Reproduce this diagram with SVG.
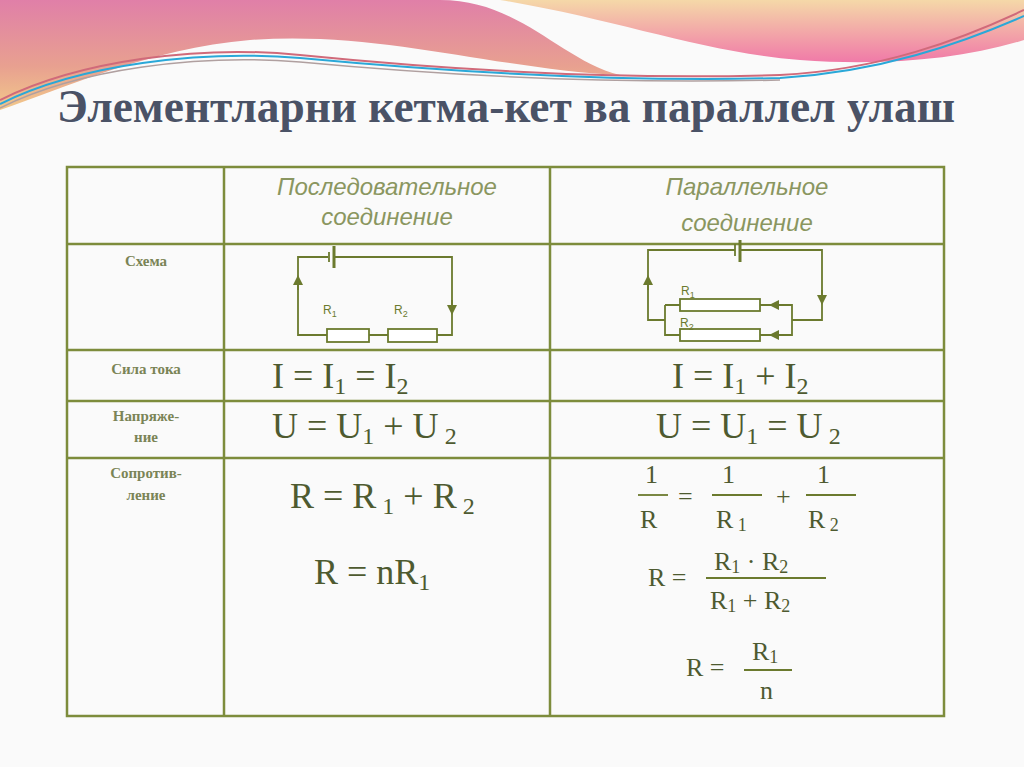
<svg xmlns="http://www.w3.org/2000/svg" width="1024" height="767" viewBox="0 0 1024 767">
<defs>
<linearGradient id="g1" x1="0" y1="0" x2="0" y2="1"><stop offset="0" stop-color="#e07fa8"/><stop offset="0.6" stop-color="#e8a090"/><stop offset="1" stop-color="#f2c98a"/></linearGradient>
<linearGradient id="g2" x1="0" y1="0" x2="0" y2="1"><stop offset="0" stop-color="#f5d8a8"/><stop offset="1" stop-color="#f07aa8"/></linearGradient>
<marker id="ar" viewBox="0 0 10 10" refX="5" refY="5" markerWidth="10" markerHeight="10" orient="auto" markerUnits="userSpaceOnUse"><path d="M0,0 L10,5 L0,10 z" fill="#6b7a2e"/></marker>
<style>
.tl{stroke:#7d8c3c;stroke-width:2.5;fill:none}
.w{stroke:#6b7a2e;stroke-width:1.8;fill:none}
.rs{stroke:#6b7a2e;stroke-width:1.8;fill:#fff}
.hd{font-family:"Liberation Sans",Arial,sans-serif;font-style:italic;font-size:24px;fill:#8a9660;text-anchor:middle}
.lb{font-family:"Liberation Serif",serif;font-weight:bold;font-size:15px;fill:#7a8456;text-anchor:middle}
.f{font-family:"Liberation Serif",serif;font-size:36px;fill:#4e5a30}
.fs{font-family:"Liberation Serif",serif;font-size:26px;fill:#4e5a30}
.sm{font-family:"Liberation Sans",Arial,sans-serif;font-size:12px;fill:#6b7a2e}
</style>
</defs>
<rect width="1024" height="767" fill="#fafafa"/>
<path d="M0,0 H440 C520,0 560,60 620,75 C500,70 380,30 250,40 C150,48 60,90 0,110 Z" fill="url(#g1)"/>
<path d="M500,0 H1024 V40 C960,60 880,66 800,60 C700,52 620,20 500,0 Z" fill="url(#g2)"/>
<path d="M0,100 C80,60 200,45 300,55 C450,70 620,80 780,75 C880,70 960,40 1024,10" stroke="#d06a7a" stroke-width="2" fill="none"/>
<path d="M0,104 C80,64 200,50 300,58 C450,72 620,82 780,78 C880,72 960,44 1024,16" stroke="#2aa8d8" stroke-width="2" fill="none"/>
<path d="M0,108 C80,68 200,54 300,62 C450,76 620,84 780,80" stroke="#b0a0a0" stroke-width="1.5" fill="none"/>
<text x="57" y="122" font-family="'Liberation Serif',serif" font-weight="bold" font-size="46" fill="#4a5266" textLength="898" lengthAdjust="spacingAndGlyphs">Элементларни кетма-кет ва параллел улаш</text>
<g id="table">
<rect x="67" y="167" width="877" height="549" class="tl"/>
<line x1="224" y1="167" x2="224" y2="716" class="tl"/>
<line x1="550" y1="167" x2="550" y2="716" class="tl"/>
<line x1="67" y1="244" x2="944" y2="244" class="tl"/>
<line x1="67" y1="350" x2="944" y2="350" class="tl"/>
<line x1="67" y1="401" x2="944" y2="401" class="tl"/>
<line x1="67" y1="458" x2="944" y2="458" class="tl"/>
</g>
<g id="headers">
<text x="387" y="195" class="hd">Последовательное</text>
<text x="387" y="225" class="hd">соединение</text>
<text x="747" y="195" class="hd">Параллельное</text>
<text x="747" y="231" class="hd">соединение</text>
</g>
<g id="labels">
<text x="146" y="266" class="lb">Схема</text>
<text x="146" y="374" class="lb">Сила тока</text>
<text x="146" y="421" class="lb">Напряже-</text>
<text x="146" y="442" class="lb">ние</text>
<text x="146" y="478" class="lb">Сопротив-</text>
<text x="146" y="500" class="lb">ление</text>
</g>
<g id="connectors">
<path d="M327,335 H298 V257 H328 M335,257 H452 V335 H437 M369,335 H388" class="w"/>
<line x1="329" y1="252" x2="329" y2="262" class="w"/>
<line x1="334" y1="246" x2="334" y2="268" stroke="#6b7a2e" stroke-width="3"/>
<path d="M298,290 V280" class="w" marker-end="url(#ar)"/>
<path d="M452,300 V310" class="w" marker-end="url(#ar)"/>
<rect x="327" y="329" width="42" height="13" class="rs"/>
<rect x="388" y="329" width="49" height="13" class="rs"/>
<text x="323" y="314" class="sm">R<tspan font-size="9" dy="3">1</tspan></text>
<text x="394" y="314" class="sm">R<tspan font-size="9" dy="3">2</tspan></text>
<path d="M735,250 H648 V320 H665 M740,250 H822 V320 H792 M665,305 V335 H680 M665,305 H680 M760,305 H792 V335 H760" class="w"/>
<line x1="735" y1="244" x2="735" y2="256" class="w"/>
<line x1="740" y1="240" x2="740" y2="262" stroke="#6b7a2e" stroke-width="3"/>
<path d="M648,290 V280" class="w" marker-end="url(#ar)"/>
<path d="M822,290 V300" class="w" marker-end="url(#ar)"/>
<path d="M784,305 H774" class="w" marker-end="url(#ar)"/>
<path d="M784,335 H774" class="w" marker-end="url(#ar)"/>
<rect x="680" y="299" width="80" height="12" class="rs"/>
<rect x="680" y="329" width="80" height="12" class="rs"/>
<text x="681" y="295" class="sm">R<tspan font-size="9" dy="3">1</tspan></text>
<text x="680" y="327" class="sm">R<tspan font-size="9" dy="3">2</tspan></text>
</g>
<g id="formulas">
<text x="272" y="388" class="f">I = I<tspan font-size="24" dy="6">1</tspan><tspan dy="-6">  = I</tspan><tspan font-size="24" dy="6">2</tspan></text>
<text x="672" y="388" class="f">I = I<tspan font-size="24" dy="6">1</tspan><tspan dy="-6">  + I</tspan><tspan font-size="24" dy="6">2</tspan></text>
<text x="272" y="438" class="f">U = U<tspan font-size="24" dy="6">1</tspan><tspan dy="-6"> + U</tspan><tspan font-size="24" dy="6"> 2</tspan></text>
<text x="656" y="438" class="f">U = U<tspan font-size="24" dy="6">1</tspan><tspan dy="-6"> = U</tspan><tspan font-size="24" dy="6"> 2</tspan></text>
<text x="290" y="508" class="f">R = R<tspan font-size="24" dy="6"> 1</tspan><tspan dy="-6"> + R</tspan><tspan font-size="24" dy="6"> 2</tspan></text>
<text x="314" y="584" class="f">R = nR<tspan font-size="24" dy="6">1</tspan></text>
<text x="645" y="483" class="fs">1</text>
<line x1="638" y1="495" x2="668" y2="495" class="w"/>
<text x="640" y="528" class="fs">R</text>
<text x="678" y="505" class="fs">=</text>
<text x="722" y="483" class="fs">1</text>
<line x1="712" y1="495" x2="762" y2="495" class="w"/>
<text x="716" y="528" class="fs">R<tspan font-size="18" dy="3"> 1</tspan></text>
<text x="776" y="505" class="fs">+</text>
<text x="817" y="483" class="fs">1</text>
<line x1="806" y1="495" x2="856" y2="495" class="w"/>
<text x="808" y="528" class="fs">R<tspan font-size="18" dy="3"> 2</tspan></text>
<text x="648" y="586" class="fs">R =</text>
<text x="714" y="570" class="fs">R<tspan font-size="18" dy="3">1</tspan><tspan dy="-3"> · R</tspan><tspan font-size="18" dy="3">2</tspan></text>
<line x1="706" y1="578" x2="826" y2="578" class="w"/>
<text x="710" y="609" class="fs">R<tspan font-size="18" dy="3">1</tspan><tspan dy="-3"> + R</tspan><tspan font-size="18" dy="3">2</tspan></text>
<text x="686" y="676" class="fs">R =</text>
<text x="752" y="660" class="fs">R<tspan font-size="18" dy="3">1</tspan></text>
<line x1="744" y1="670" x2="792" y2="670" class="w"/>
<text x="760" y="699" class="fs">n</text>
</g>
</svg>
